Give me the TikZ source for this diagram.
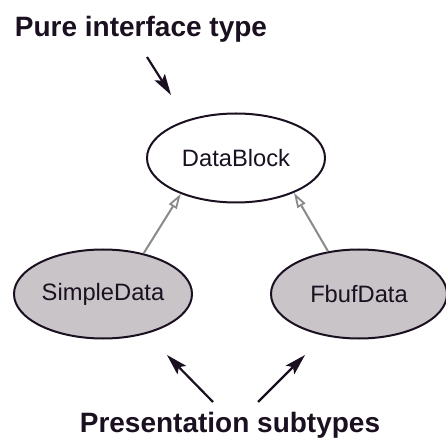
\documentclass[tikz,border=0pt]{standalone}
\usepackage{fontspec}
\setmainfont{Liberation Sans}
\usetikzlibrary{shapes.geometric,arrows.meta}
\definecolor{ink}{HTML}{1A1020}
\definecolor{fillgray}{HTML}{C8C4C8}
\definecolor{linkgray}{HTML}{8A8A8A}
\tikzset{
  cls/.style={ellipse, draw=ink, line width=2pt, inner sep=0pt,
    minimum width=178pt, minimum height=89pt, text=ink,
    font=\fontsize{23.7}{28}\selectfont},
  subcls/.style={cls, fill=fillgray},
  title/.style={text=ink, anchor=base, inner sep=0pt,
    font=\fontsize{28}{34}\selectfont\bfseries},
  inherit/.style={draw=linkgray, line width=2pt,
    -{Triangle[open, length=15pt, width=9pt, line width=1.8pt]}},
  pointer/.style={draw=ink, line width=2.2pt,
    -{Stealth[length=21pt, width=12pt, inset=4pt]}}
}
\begin{document}
\begin{tikzpicture}[x=1pt,y=1pt]
\useasboundingbox (0,0) rectangle (446,439);
\node[title] (pure) at (141,402) {Pure interface type};
\node[title] (pres) at (230,7) {Presentation subtypes};
\node[cls] (db) at (236,281) {DataBlock};
\node[subcls] (sd) at (103,145) {SimpleData};
\node[subcls, minimum width=176pt] (fd) at (359,145) {FbufData};
\draw[inherit] (sd.45) -- (db.213);
\draw[inherit] (fd.126) -- (db.329);
\coordinate (pt1) at (147,382);
\coordinate (pt2) at (171,344);
\coordinate (pl1) at (213,37);
\coordinate (pl2) at (167,84);
\coordinate (pr1) at (258,37);
\coordinate (pr2) at (305,84);
\draw[pointer] (pt1) -- (pt2);
\draw[pointer] (pl1) -- (pl2);
\draw[pointer] (pr1) -- (pr2);
\end{tikzpicture}
\end{document}
